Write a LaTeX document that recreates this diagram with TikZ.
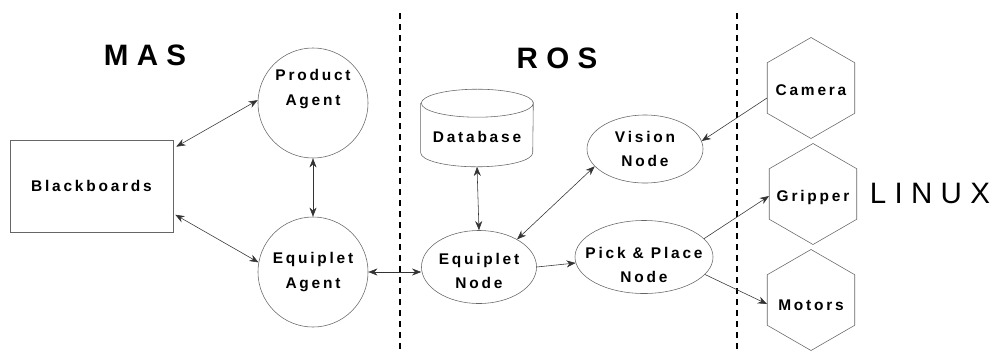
\documentclass[tikz,border=0pt]{standalone}
\usepackage{fontspec}
\setsansfont{Liberation Sans}
\newfontfamily\lblfont{Liberation Sans}[LetterSpace=18]
\newfontfamily\ttlfont{Liberation Sans}[LetterSpace=28]
\usetikzlibrary{shapes.geometric}
\usetikzlibrary{arrows.meta}

\begin{document}
\begin{tikzpicture}[x=0.025cm,y=-0.025cm,
        shp/.style={draw=black!60, thin, inner sep=0pt},
        txt/.style={font=\lblfont\bfseries\fontsize{11}{17.5}\selectfont, align=center},
        title/.style={font=\ttlfont\bfseries\fontsize{21}{24}\selectfont},
        hexa/.style={shp, regular polygon, regular polygon sides=6, shape border rotate=30, minimum size=2.525cm},
        conn/.style={draw=black!80, thin, {Stealth[length=6.5pt,width=5pt]}-{Stealth[length=6.5pt,width=5pt]}},
        oneway/.style={draw=black!80, thin, -{Stealth[length=6.5pt,width=5pt]}},
        border/.style={line width=2.1pt, dash pattern=on 0.15cm off 0.125cm}]
        \useasboundingbox (0,0) rectangle (991,350);
        % the three layers
        \draw[border] (400,13) -- (400,350);
        \draw[border] (737,13) -- (737,350);
        \node[title] (mas) at (145,55) {MAS};
        \node[title] (ros) at (557,58) {ROS};
        \node[title, font=\ttlfont\fontsize{21}{24}\selectfont] (linux) at (930,193) {LINUX};
        % agents
        \node[shp, rectangle, minimum width=4.075cm, minimum height=2.3cm,
              label={[txt]center:Blackboards}] (bb) at (91.5,186) {};
        \node[shp, circle, minimum size=2.75cm,
              label={[txt,yshift=0.35cm]center:Product\\Agent}] (pa) at (313,103) {};
        \node[shp, circle, minimum size=2.75cm,
              label={[txt]center:Equiplet\\Agent}] (ea) at (313,272) {};
        % ros nodes
        \node[shp, ellipse, minimum width=2.9cm, minimum height=1.7cm,
              label={[txt]center:Vision\\Node}] (vn) at (645,149) {};
        \node[shp, ellipse, minimum width=2.875cm, minimum height=1.825cm,
              label={[txt,yshift=-0.1cm]center:Equiplet\\Node}] (en) at (479,267) {};
        \node[shp, ellipse, minimum width=3.45cm, minimum height=1.825cm,
              label={[txt,yshift=-0.2cm]center:Pick \& Place\\Node}] (pp) at (644,257) {};
        \node[inner sep=0pt, minimum width=2.8cm, minimum height=1.925cm,
              label={[txt,yshift=-0.225cm]center:Database}] (db) at (477,128) {};
        \draw[shp] (db.north west) ++(0,14) -- ([yshift=14*0.025cm]db.south west)
            arc[start angle=180, end angle=0, x radius=56, y radius=14]
            -- ([yshift=-14*0.025cm]db.north east)
            arc[start angle=0, end angle=360, x radius=56, y radius=14];
        % linux devices
        \node[hexa, label={[txt,yshift=-0.05cm]center:Camera}] (cam) at (811,88) {};
        \node[hexa, label={[txt,yshift=-0.075cm]center:Gripper}] (grip) at (813,194) {};
        \node[hexa, label={[txt,yshift=-0.125cm]center:Motors}] (mot) at (811,300) {};
        % connections
        \draw[conn] ([shift={(3,7)}]bb.north east) -- (pa.177);
        \draw[conn] ([shift={(2,75)}]bb.north east) -- (ea.170);
        \draw[conn] (pa) -- (ea);
        \draw[conn] (ea.east) -- (ea.east -| en.west);
        \draw[conn] (db.south) -- (en.north);
        \draw[conn] (en.36) -- (vn.199);
        \draw[oneway] (en.east) -- (pp.185);
        \draw[oneway] ([shift={(-44,10)}]cam.center) -- (vn.8);
        \draw[oneway] (pp.17) -- ([shift={(-44,2)}]grip.center);
        \draw[oneway] (pp.-16) -- ([shift={(-44,4)}]mot.center);
\end{tikzpicture}
\end{document}
